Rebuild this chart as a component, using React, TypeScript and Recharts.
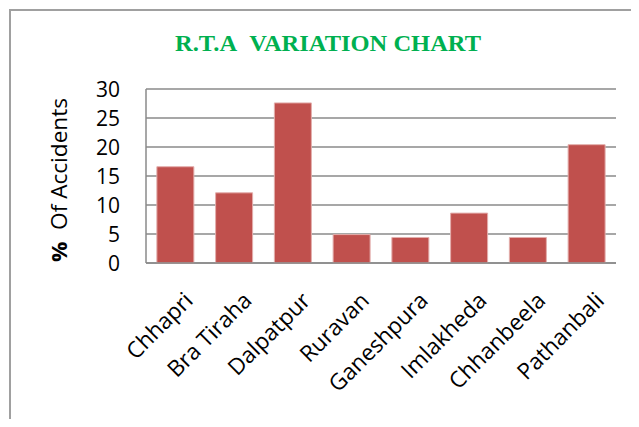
import { BarChart, Bar, XAxis, YAxis, CartesianGrid } from 'recharts'

const villages = [
  'Chhapri',
  'Bra Tiraha',
  'Dalpatpur',
  'Ruravan',
  'Ganeshpura',
  'Imlakheda',
  'Chhanbeela',
  'Pathanbali',
]
const accidentPct = [16.6, 12.1, 27.6, 4.9, 4.4, 8.6, 4.4, 20.4]
const yTicks = [0, 5, 10, 15, 20, 25, 30]

const data = villages.map((name, i) => ({ name, pct: accidentPct[i] }))

const FONT = '"Open Sans", sans-serif'

function XTick({ x, y, payload }: any) {
  const ax = x + 19
  const ay = y + 31
  return (
    <text
      x={ax}
      y={ay}
      textAnchor="end"
      transform={`rotate(-45, ${ax}, ${ay})`}
      fontFamily={FONT}
      fontSize={22.5}
      fill="#000"
    >
      {payload.value}
    </text>
  )
}

function YTick({ x, y, payload }: any) {
  return (
    <text
      x={x - 18}
      y={y}
      dy="0.36em"
      textAnchor="end"
      fontFamily={FONT}
      fontSize={21}
      fill="#000"
    >
      {payload.value}
    </text>
  )
}

export default function App() {
  return (
    <div style={{ position: 'relative', width: 639, height: 427, margin: -8, background: '#fff' }}>
      {/* frame, only top + left edges are visible in the crop */}
      <div
        style={{
          position: 'absolute',
          left: 9,
          top: 9,
          width: 700,
          height: 500,
          borderLeft: '2px solid #a0a0a0',
          borderTop: '2px solid #a0a0a0',
        }}
      />
      <BarChart
        width={639}
        height={427}
        data={data}
        margin={{ top: 89, right: 23, left: 0, bottom: 0 }}
        barCategoryGap="18.5%"
        style={{ position: 'absolute', left: 0, top: 0 }}
      >
        <CartesianGrid vertical={false} stroke="#8a8a8a" strokeWidth={1.5} />
        <XAxis
          dataKey="name"
          height={164}
          interval={0}
          tickLine={false}
          axisLine={{ stroke: '#8a8a8a', strokeWidth: 1.5 }}
          tick={<XTick />}
        />
        <YAxis
          width={146}
          domain={[0, 30]}
          ticks={yTicks}
          tickLine={false}
          axisLine={{ stroke: '#8a8a8a', strokeWidth: 1.5 }}
          tick={<YTick />}
        />
        <Bar dataKey="pct" fill="#c0504d" stroke="#e3aeac" strokeWidth={1} isAnimationActive={false} />
      </BarChart>
      <svg width={639} height={427} style={{ position: 'absolute', left: 0, top: 0, pointerEvents: 'none' }}>
        <text
          x={328}
          y={51}
          textAnchor="middle"
          fontFamily='"Liberation Serif", "Times New Roman", serif'
          fontWeight="bold"
          fontSize={24}
          fill="#00b050"
          textLength={306}
          lengthAdjust="spacingAndGlyphs"
        >
          R.T.A{'\u00a0\u00a0'}VARIATION CHART
        </text>
        <text
          x={0}
          y={0}
          transform="translate(67, 180) rotate(-90)"
          textAnchor="middle"
          fontFamily={FONT}
          fontSize={21}
          fill="#000"
          textLength={164}
          lengthAdjust="spacingAndGlyphs"
        >
          <tspan fontWeight="bold">%</tspan>
          {'\u00a0\u00a0Of Accidents'}
        </text>
      </svg>
    </div>
  )
}
